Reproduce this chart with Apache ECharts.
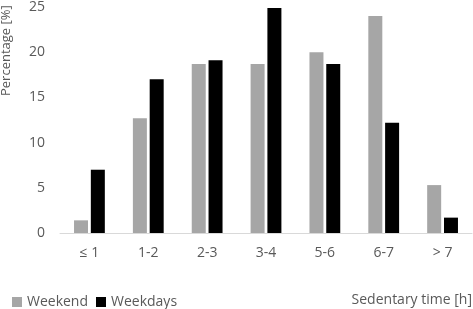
<!DOCTYPE html>
<html>
<head>
<meta charset="utf-8">
<script src="https://cdn.jsdelivr.net/npm/echarts@6/dist/echarts.min.js"></script>
<style>
  html, body { margin: 0; padding: 0; background: #fff; }
  #chart { width: 473px; height: 309px; }
</style>
</head>
<body>
<div id="chart"></div>
<script>
// sedentary time bins and share of children per bin
const categories = ['≤ 1', '1-2', '2-3', '3-4', '5-6', '6-7', '> 7'];
const weekend = [1.4, 12.7, 18.7, 18.7, 20.0, 24.0, 5.3];
const weekdays = [7.0, 17.0, 19.1, 24.9, 18.7, 12.2, 1.7];
const yTicks = [0, 5, 10, 15, 20, 25];

const FONT = '"Open Sans", sans-serif';
const INK = '#595959';
const GREY = '#a6a6a6';

const chart = echarts.init(document.getElementById('chart'));
chart.setOption({
  animation: false,
  grid: { left: 60, right: 1, top: 7, bottom: 76 },
  legend: {
    left: 12, top: 294, padding: 0,
    itemWidth: 10, itemHeight: 10, itemGap: 8,
    icon: 'rect',
    textStyle: { color: INK, fontFamily: FONT, fontSize: 14, lineHeight: 16 },
    data: ['Weekend', 'Weekdays'],
  },
  xAxis: {
    type: 'category',
    data: categories,
    axisLine: { lineStyle: { color: '#d9d9d9', width: 1 } },
    axisTick: { show: false },
    axisLabel: { color: INK, fontFamily: FONT, fontSize: 14, margin: 13 },
  },
  yAxis: {
    type: 'value',
    min: yTicks[0], max: yTicks[yTicks.length - 1], interval: 5,
    axisLine: { show: false },
    axisTick: { show: false },
    splitLine: { show: false },
    axisLabel: { color: INK, fontFamily: FONT, fontSize: 14, margin: 15 },
  },
  graphic: [
    {
      type: 'text', rotation: Math.PI / 2,
      x: 0, y: 96,
      style: { text: 'Percentage [%]', fill: INK, font: '13px ' + FONT },
    },
    {
      type: 'text', right: 1, top: 293,
      style: { text: 'Sedentary time [h]', fill: INK, font: '14px ' + FONT },
    },
  ],
  series: [
    {
      name: 'Weekend', type: 'bar', data: weekend,
      barWidth: 14, barGap: '20%',
      itemStyle: { color: GREY },
    },
    {
      name: 'Weekdays', type: 'bar', data: weekdays,
      barWidth: 14,
      itemStyle: { color: '#000000' },
    },
  ],
});
</script>
</body>
</html>
